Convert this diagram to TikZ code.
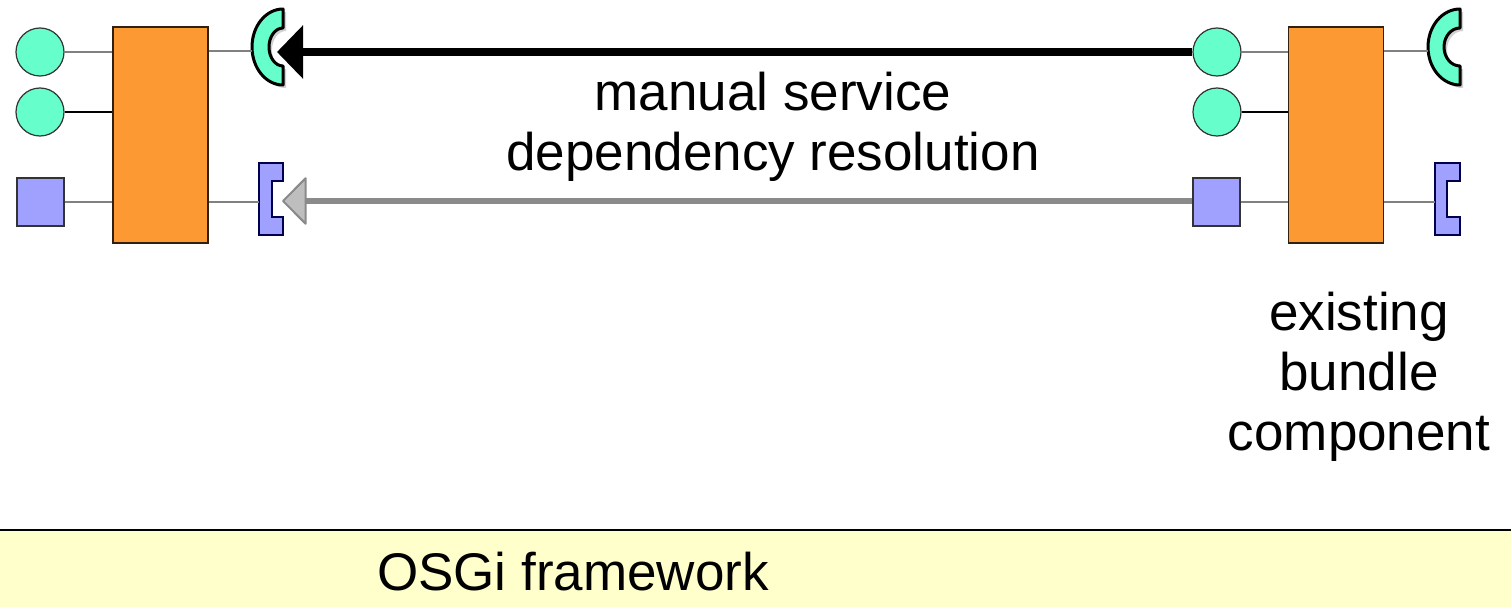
\documentclass[tikz,border=0pt]{standalone}
\usepackage{fontspec}
\setmainfont{Liberation Sans}
\usetikzlibrary{arrows.meta,shadows}
\definecolor{svcgreen}{HTML}{66FFCC}
\definecolor{reqblue}{HTML}{A0A0FF}
\definecolor{bundleorange}{HTML}{FD9933}
\definecolor{fwyellow}{HTML}{FFFFCC}
\definecolor{wiregray}{HTML}{808080}
\definecolor{arrowgray}{HTML}{8A8A8A}
\definecolor{headgray}{HTML}{BEBEBE}
\definecolor{edgedark}{HTML}{333333}
\begin{document}
\begin{tikzpicture}[x=1pt,y=-1pt,
  svc/.style={circle,draw=edgedark,line width=1.2pt,fill=svcgreen,minimum size=48pt,inner sep=0pt},
  reqport/.style={rectangle,draw=edgedark,line width=1.2pt,fill=reqblue,minimum width=47pt,minimum height=48pt,inner sep=0pt},
  bundle/.style={rectangle,draw=black!75!brown,line width=1.4pt,fill=bundleorange,minimum width=95pt,minimum height=216pt,inner sep=0pt},
  wire/.style={draw=wiregray,line width=2pt},
  wireblack/.style={draw=black,line width=1.6pt},
  socketlook/.style={draw=black,line width=3pt,fill=svcgreen,line join=round,
    drop shadow={shadow xshift=3pt,shadow yshift=-3pt,fill=black!18,opacity=1}},
  bracketlook/.style={draw=black!70!blue,line width=1.2pt,fill=reqblue},
  strongarrow/.style={draw=black,line width=7.5pt,-{Triangle[length=26pt,width=52pt]}},
  softarrow/.style={draw=arrowgray,line width=6pt,-{Triangle[length=25pt,width=50pt,fill=headgray,line width=2pt,round]}},
  lbl/.style={font=\fontsize{53pt}{60pt}\selectfont,inner sep=0pt}
]
\useasboundingbox (0,0) rectangle (1511,607);

% framework strip
\fill[fwyellow] (0,530) rectangle (1511,607);
\draw[black,line width=2.5pt] (0,530) -- (1511,530);
\node[lbl,anchor=base] (fw) at (573,590) {OSGi framework};

% left bundle with its ports
\node[bundle] (lcomp) at (160.5,135) {};
\node[svc] (lc1) at (40,52) {};
\node[svc] (lc2) at (40,112) {};
\node[reqport] (lsq) at (40.5,202) {};

% right bundle with its ports
\node[bundle] (rcomp) at (1336,135) {};
\node[svc] (rc1) at (1217,52) {};
\node[svc] (rc2) at (1217,112) {};
\node[reqport] (rsq) at (1216.5,202) {};

% service sockets (half rings)
\path[socketlook] (283,9) arc[start angle=90,end angle=270,x radius=31pt,y radius=38pt]
  -- (283,66) arc[start angle=270,end angle=90,x radius=14pt,y radius=19pt] -- cycle;
\path[socketlook] (1460,9) arc[start angle=90,end angle=270,x radius=32pt,y radius=38pt]
  -- (1460,66) arc[start angle=270,end angle=90,x radius=16pt,y radius=19pt] -- cycle;
\coordinate (lsockin) at (252,51);
\coordinate (rsockin) at (1428,51);
\coordinate (lsocktip) at (277,52);

% requirement brackets
\path[bracketlook] (259,163) -- (283,163) -- (283,181) -- (272,181) -- (272,217) -- (283,217) -- (283,235) -- (259,235) -- cycle;
\path[bracketlook] (1435,163) -- (1460,163) -- (1460,181) -- (1447,181) -- (1447,217) -- (1460,217) -- (1460,235) -- (1435,235) -- cycle;
\coordinate (lbrin) at (259,202);
\coordinate (rbrin) at (1435,202);
\coordinate (lbrtip) at (282,201);

% wires between ports and bundles
\draw[wire] (lc1.east) -- (lc1.east -| lcomp.west);
\draw[wireblack] (lc2.east) -- (lc2.east -| lcomp.west);
\draw[wire] (lsq.east) -- (lsq.east -| lcomp.west);
\draw[wire] (lcomp.east |- lsockin) -- (lsockin);
\draw[wire] (lcomp.east |- lbrin) -- (lbrin);
\draw[wire] (rc1.east) -- (rc1.east -| rcomp.west);
\draw[wireblack] (rc2.east) -- (rc2.east -| rcomp.west);
\draw[wire] (rsq.east) -- (rsq.east -| rcomp.west);
\draw[wire] (rcomp.east |- rsockin) -- (rsockin);
\draw[wire] (rcomp.east |- rbrin) -- (rbrin);

% dependency resolution arrows
\draw[strongarrow] (rc1.west) -- (lsocktip);
\draw[softarrow] (rsq.west |- lbrtip) -- (lbrtip);

% labels (anchored on the baseline of their last line)
\node[lbl,align=center,anchor=base] (deplbl) at (773,170) {manual service\\dependency resolution};
\node[lbl,align=center,anchor=base] (exlbl) at (1359,450) {existing\\bundle\\component};
\end{tikzpicture}
\end{document}
